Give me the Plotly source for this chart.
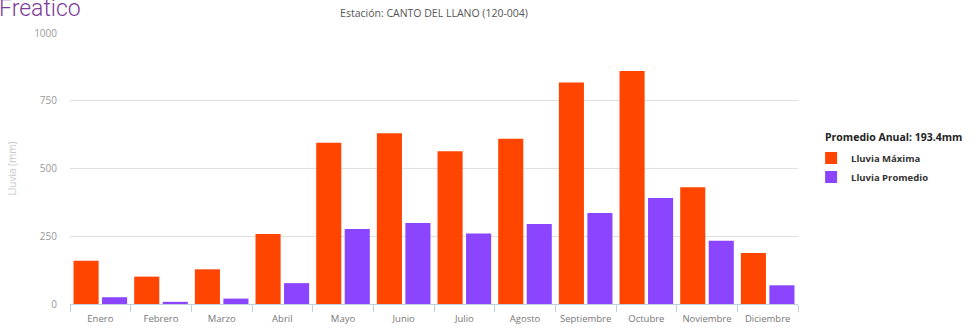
import plotly.graph_objects as go

meses = ["Enero", "Febrero", "Marzo", "Abril", "Mayo", "Junio", "Julio",
         "Agosto", "Septiembre", "Octubre", "Noviembre", "Diciembre"]
lluvia_maxima = [160, 101, 128, 258, 595, 630, 564, 610, 817, 860, 431, 188]
lluvia_promedio = [25, 8, 20, 77, 277, 299, 260, 295, 336, 391, 233, 69]
y_ticks = [0, 250, 500, 750, 1000]
titulo = "Estación: CANTO DEL LLANO (120-004)"
promedio_anual = "Promedio Anual: 193.4mm"

FONT = "Open Sans, DejaVu Sans, sans-serif"

fig = go.Figure()
fig.add_trace(go.Bar(x=meses, y=lluvia_maxima, name="Lluvia Máxima",
                     marker=dict(color="#FF4500", line=dict(width=0))))
fig.add_trace(go.Bar(x=meses, y=lluvia_promedio, name="Lluvia Promedio",
                     marker=dict(color="#8B45FF", line=dict(width=0))))

fig.update_layout(
    width=977, height=329,
    margin=dict(l=70, r=179, t=33, b=25),
    paper_bgcolor="white", plot_bgcolor="white",
    font=dict(family=FONT, size=10, color="#666"),
    barmode="group", bargap=0.06, bargroupgap=0.12,
    showlegend=True,
    legend=dict(x=1.018, xanchor="left", y=0.592, yanchor="top",
                xref="paper", yref="paper",
                font=dict(family=FONT, size=9.5, color="#333", weight="bold"),
                tracegroupgap=0, itemwidth=30, bgcolor="rgba(0,0,0,0)"),
    title=dict(text=titulo, x=0.5, xref="paper", y=0.96, yanchor="middle",
               font=dict(family=FONT, size=10.5, color="#555")),
    annotations=[
        dict(text="Freatico", xref="paper", yref="paper", x=-0.1, y=1.09,
             xanchor="left", yanchor="middle", showarrow=False,
             font=dict(family="Roboto, sans-serif", size=23, color="#7D3C98", weight=300)),
        dict(text="<b>" + promedio_anual + "</b>", xref="paper", yref="paper",
             x=1.035, y=0.583, xanchor="left", yanchor="bottom", showarrow=False,
             font=dict(family=FONT, size=10.5, color="#222")),
    ],
)
fig.update_xaxes(type="category", showgrid=False, ticks="outside", tickson="boundaries",
                 ticklen=7, tickcolor="#C0D0E0", showline=True, linecolor="#C0D0E0",
                 ticklabelstandoff=6, automargin=False,
                 tickfont=dict(size=9.5, color="#777"))
fig.update_yaxes(range=[0, 1000], tickvals=y_ticks, showgrid=True, gridcolor="#E0E0E0",
                 gridwidth=1, zeroline=False, showline=False, automargin=False,
                 tickfont=dict(size=10, color="#999"), ticklabelstandoff=12,
                 title=dict(text="Lluvia (mm)", font=dict(size=10, color="#C8C8C8"), standoff=15))

fig.write_html("out.html")
